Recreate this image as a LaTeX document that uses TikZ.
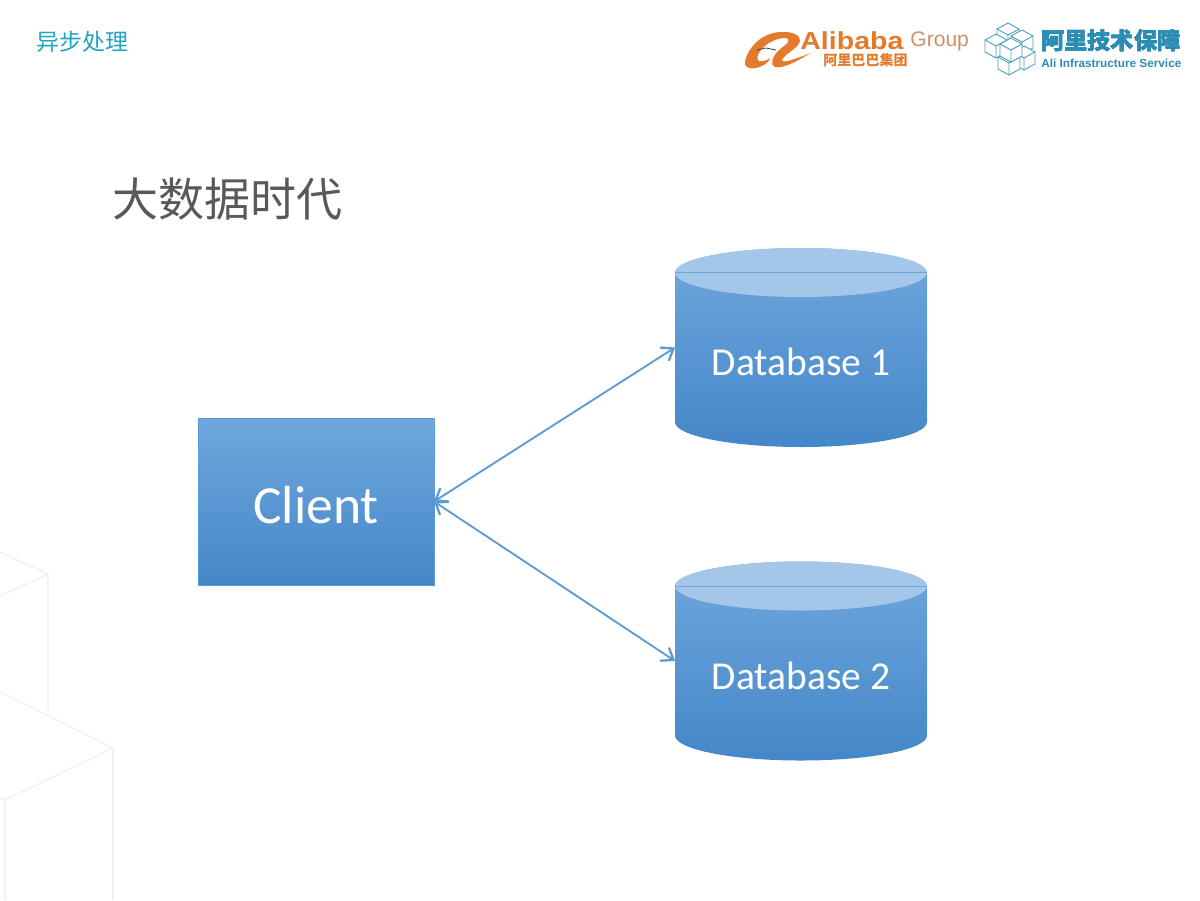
\documentclass[tikz,border=0pt]{standalone}
\usepackage{graphicx}
\usepackage{fontspec}
\setmainfont{Carlito}
\newfontfamily\cjk{Noto Sans CJK SC}
\newfontfamily\logofont{Liberation Sans}
\usetikzlibrary{positioning, arrows.meta, shapes.geometric, calc}

\definecolor{boxblue}{HTML}{5B9BD5}
\definecolor{boxtop}{HTML}{70A7DE}
\definecolor{boxbottom}{HTML}{4487C8}
\definecolor{lidblue}{HTML}{A3C6E9}
\definecolor{cubegrey}{HTML}{F2F2F2}
\definecolor{logoorange}{HTML}{E47B2C}
\definecolor{logoblue}{HTML}{2C8DB4}

\tikzset{
    client/.style={rectangle, draw=boxblue, line width=0.4pt, top color=boxtop, bottom color=boxbottom,
        minimum width=236*0.02cm, minimum height=167*0.02cm, inner sep=0pt, outer sep=0pt,
        text=white, text height=25.5pt, text depth=0pt, font=\fontsize{30.5}{36}\selectfont},
    database/.style={cylinder, shape border rotate=90, aspect=0.28, top color=boxtop, bottom color=boxbottom,
        minimum width=252*0.02cm, minimum height=199*0.02cm, inner sep=0pt, outer sep=0pt, anchor=shape center,
        text=white, text height=17.6pt, text depth=0pt, font=\fontsize{22.5}{26}\selectfont},
    link/.style={boxblue, line width=1.05pt, {Straight Barb[length=6pt,width=9pt,line width=1.3pt]}-{Straight Barb[length=6pt,width=9pt,line width=1.3pt]}},
    backcube/.style={cubegrey, line width=0.9pt},
    logocube/.style={logoblue!85, fill=white, line width=0.5pt, line join=round}
}

% lid of a database, on top of the shaded node
\newcommand{\dblid}[1]{
    \fill[lidblue] ($(#1.north)+(0,24.5)$) ellipse [x radius=126, y radius=24.5];
    \draw[boxblue!90!white, line width=0.4pt] ($(#1.north)+(-126,24.5)$) -- ($(#1.north)+(126,24.5)$);
}
% one small cube of the right logo
\newcommand{\cubemark}[2]{
    \draw[logocube] (#1,#2-12) -- (#1+11,#2-6) -- (#1+11,#2+6) -- (#1,#2+12) -- (#1-11,#2+6) -- (#1-11,#2-6) -- cycle;
    \draw[logocube] (#1-11,#2-6) -- (#1,#2) -- (#1+11,#2-6) (#1,#2) -- (#1,#2+12);
}

\begin{document}
\begin{tikzpicture}[x=0.02cm, y=-0.02cm]
    \useasboundingbox (0,0) rectangle (1200,900);

    % Background cubes
    \draw[backcube] (0,552) -- (48,574) -- (0,596);
    \draw[backcube] (48,574) -- (48,711);
    \draw[backcube] (0,692) -- (113,748) -- (5,800) -- (0,798);
    \draw[backcube] (5,800) -- (5,900);
    \draw[backcube] (113,748) -- (113,900);

    % Headings
    \node (section) [anchor=west, inner sep=0pt, text=logoblue!80!cyan, font=\cjk\fontsize{13.1}{16}\selectfont] at (36,42) {异步处理};
    \node (heading) [anchor=west, inner sep=0pt, text=black!65, font=\cjk\fontsize{26.2}{30}\selectfont] at (112,199) {大数据时代};

    % Place the nodes
    \node (client) [client] at (316,501.5) {Client};
    \node (db1) [database] at (801,347.5) {Database 1};
    \node (db2) [database] at (801,661) {Database 2};
    \dblid{db1}
    \dblid{db2}

    % Draw the edges
    \draw [link] (client.east) -- (db1.shape center -| db1.west);
    \draw [link] (client.east) -- (db2.shape center -| db2.west);

    % Alibaba logo
    \fill[logoorange] (745,62) .. controls (748,46) and (764,31) .. (784,32) .. controls (792,32) and (801,35) .. (800,41)
        .. controls (798,49) and (784,54) .. (782,60) .. controls (782,64) and (795,59) .. (811,53)
        .. controls (797,61) and (783,69) .. (775,67) .. controls (770,65) and (772,58) .. (777,52)
        .. controls (783,46) and (791,42) .. (788,39) .. controls (783,36) and (770,41) .. (765,46)
        .. controls (758,52) and (755,59) .. (759,61) .. controls (762,62) and (768,60) .. (770,58)
        .. controls (768,66) and (752,71) .. (747,67) .. controls (745,66) and (745,64) .. (745,62) -- cycle;
    \draw[black!80, line width=0.4pt] (757,50) -- (766,48) -- (776,50);
    \node (alibaba) [anchor=west, inner sep=0pt, text=logoorange, font=\logofont\bfseries\fontsize{14}{16}\selectfont] at (800,41) {\scalebox{1.16}[1]{Alibaba}};
    \node (group) [anchor=west, inner sep=0pt, text=logoorange!80!black!70, font=\logofont\fontsize{12}{14}\selectfont] at (910,41) {Group};
    \node (alicn) [anchor=west, inner sep=0pt, text=logoorange, font=\cjk\bfseries\fontsize{8}{10}\selectfont] at (823,60) {阿里巴巴集团};

    % Infrastructure logo
    \foreach \cx/\cy in {1008/35, 1022/42, 996/46, 1024/58, 1009/63, 1011/50}
        \cubemark{\cx}{\cy}
    \node (infracn) [anchor=west, inner sep=0pt, text=logoblue, font=\cjk\bfseries\fontsize{13.2}{16}\selectfont] at (1041,41) {阿里技术保障};
    \node (infra) [anchor=west, inner sep=0pt, text=logoblue, font=\logofont\bfseries\fontsize{6.7}{8}\selectfont] at (1041,63) {Ali Infrastructure Service};
\end{tikzpicture}
\end{document}
